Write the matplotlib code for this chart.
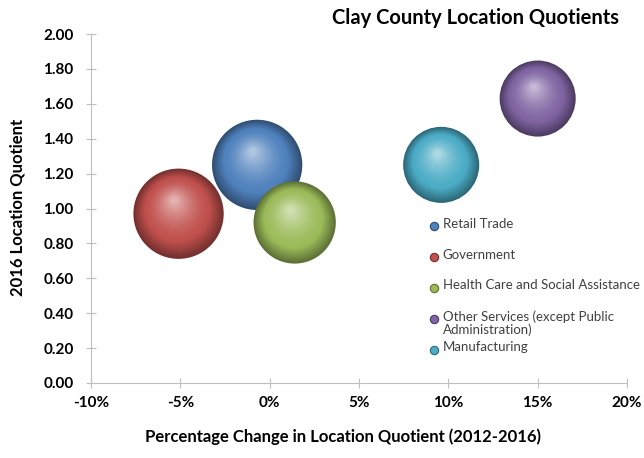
import matplotlib
matplotlib.use('Agg')
import numpy as np
import matplotlib.pyplot as plt
from matplotlib import colors as mcolors
from matplotlib.transforms import offset_copy

plt.rcParams['font.family'] = ['Lato', 'DejaVu Sans']

# data
industries = ['Retail Trade', 'Government', 'Health Care and Social Assistance',
              'Other Services (except Public\nAdministration)', 'Manufacturing']
pct_change = [-0.7, -5.1, 1.4, 15.0, 9.6]        # % change in LQ 2012-2016
lq_2016 = [1.25, 0.97, 0.92, 1.63, 1.25]         # 2016 location quotient
bubble_value = [1.00, 1.00, 0.83, 0.71, 0.71]    # relative bubble size
bubble_colors = ['#4F81BD', '#C0504D', '#9BBB59', '#8064A2', '#4BACC6']

x_ticks = [-10, -5, 0, 5, 10, 15, 20]
y_ticks = [0.0, 0.2, 0.4, 0.6, 0.8, 1.0, 1.2, 1.4, 1.6, 1.8, 2.0]

MAX_RADIUS_PT = 32.5
TXT = '#000000'


def sphere(ax, fig, x, y, radius, color, z):
    # fake 3D ball: stacked circles shifted toward the upper-left highlight
    base = np.array(mcolors.to_rgb(color))
    dark = base * 0.6
    light = base + (1 - base) * 0.55
    n = 40
    for k in range(n):
        t = k / (n - 1)
        r = radius * (1 - 0.93 * t)
        if t < 0.3:
            c = dark + (base - dark) * (t / 0.3)
        else:
            c = base + (light - base) * ((t - 0.3) / 0.7) ** 1.5
        tr = offset_copy(ax.transData, fig=fig, x=-0.10 * radius * t,
                         y=0.30 * radius * t, units='points')
        ax.scatter([x], [y], s=(2 * r) ** 2, color=c, edgecolors='none',
                   transform=tr, zorder=z, clip_on=False)


fig = plt.figure(figsize=(6.44, 4.58), dpi=100)
ax = fig.add_axes([91 / 644, 1 - 383 / 458, 536 / 644, 349 / 458])

for i in range(len(industries)):
    rad = MAX_RADIUS_PT * np.sqrt(bubble_value[i])
    sphere(ax, fig, pct_change[i], lq_2016[i], rad, bubble_colors[i], 3 + i)

ax.set_xlim(-10, 20)
ax.set_ylim(0, 2)
ax.set_xticks(x_ticks)
ax.set_xticklabels([f'{v}%' for v in x_ticks], fontweight='bold', fontsize=11)
ax.set_yticks(y_ticks)
ax.set_yticklabels([f'{v:.2f}' for v in y_ticks], fontweight='bold', fontsize=11)
for s in ['top', 'right']:
    ax.spines[s].set_visible(False)
for s in ['left', 'bottom']:
    ax.spines[s].set_color('#BFBFBF')
ax.tick_params(axis='both', direction='inout', length=7, color='#BFBFBF',
               labelcolor=TXT)
ax.tick_params(axis='x', pad=6)
ax.tick_params(axis='y', pad=9)

fig.text(18 / 644, 1 - 207 / 458, '2016 Location Quotient', rotation=90,
         ha='center', va='center', fontsize=12, fontweight='bold', color=TXT)
fig.text(343 / 644, 1 - 437 / 458,
         'Percentage Change in Location Quotient (2012-2016)',
         ha='center', va='center', fontsize=12, fontweight='bold', color=TXT)
fig.text(476 / 644, 1 - 18 / 458, 'Clay County Location Quotients',
         ha='center', va='center', fontsize=14.5, fontweight='bold', color=TXT)

# legend, one slot per series
lx, ly, step = 0.64, 0.45, 0.0887
for i, name in enumerate(industries):
    yy = ly - i * step
    ax.plot([lx], [yy], marker='o', ms=6, color=bubble_colors[i],
            mec=np.array(mcolors.to_rgb(bubble_colors[i])) * 0.6, mew=0.8,
            transform=ax.transAxes, clip_on=False, zorder=10)
    ax.text(lx + 0.016, yy + 0.024, name, transform=ax.transAxes,
            ha='left', va='top', fontsize=9.5, color='#404040',
            linespacing=1.05, zorder=10)

fig.savefig('out.png', dpi=100)
